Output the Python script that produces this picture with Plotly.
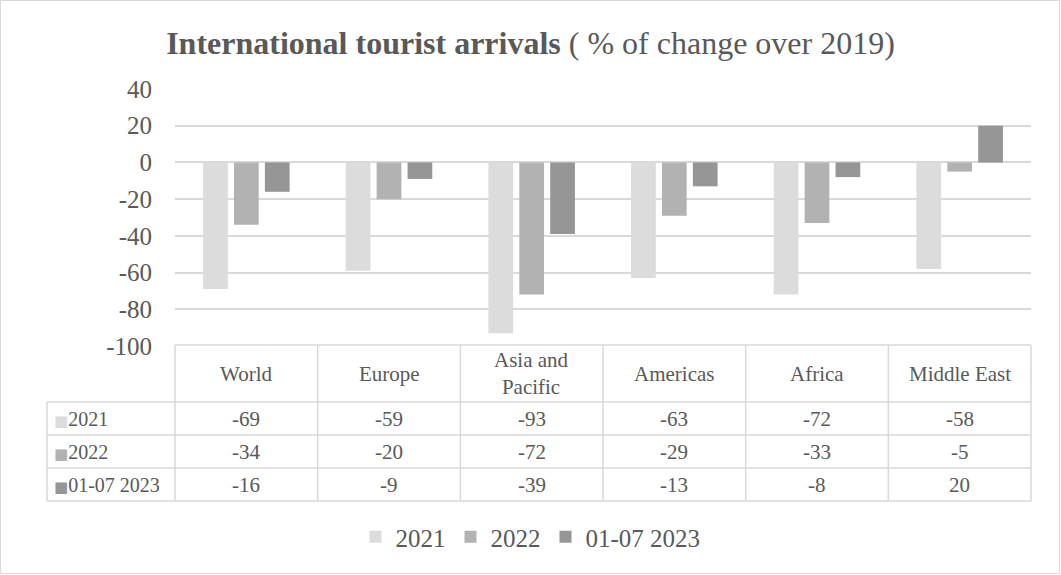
import plotly.graph_objects as go

categories = ["World", "Europe", "Asia and Pacific", "Americas", "Africa", "Middle East"]
cat_labels = ["World", "Europe", "Asia and<br>Pacific", "Americas", "Africa", "Middle East"]
series_names = ["2021", "2022", "01-07 2023"]
v2021 = [-69, -59, -93, -63, -72, -58]
v2022 = [-34, -20, -72, -29, -33, -5]
v2023 = [-16, -9, -39, -13, -8, 20]
series_values = [v2021, v2022, v2023]
colors = ["#dcdcdc", "#b2b2b2", "#969696"]
y_ticks = [40, 20, 0, -20, -40, -60, -80, -100]

W, H = 1061, 575
FONT = "Liberation Serif"
TXT = "#595959"
GRID = "#d9d9d9"

# layout in pixels
plot_l, plot_r = 175, 1031
plot_t, plot_b = 89, 346
tbl_left = 47
tbl_top = 345
hdr_bot = 402
row_h = 33

def px(x):
    return x / W

def py(y):
    return 1 - y / H

fig = go.Figure()
for name, vals, col in zip(series_names, series_values, colors):
    fig.add_trace(go.Bar(x=categories, y=vals, name=name, marker=dict(color=col, line=dict(width=0))))

shapes = []
annotations = []
# outer border
shapes.append(dict(type="rect", xref="paper", yref="paper", x0=px(0.5), x1=px(W - 1.5), y0=py(H - 1.5), y1=py(0.5),
                   line=dict(color=GRID, width=1)))
ncat = len(categories)
cw = (plot_r - plot_l) / ncat
n_rows = len(series_names)
tbl_bot = hdr_bot + n_rows * row_h
# vertical lines
for i in range(ncat + 1):
    xx = plot_l + i * cw
    shapes.append(dict(type="line", xref="paper", yref="paper", x0=px(xx), x1=px(xx), y0=py(tbl_top), y1=py(tbl_bot),
                       line=dict(color=GRID, width=1.5)))
shapes.append(dict(type="line", xref="paper", yref="paper", x0=px(tbl_left), x1=px(tbl_left), y0=py(hdr_bot), y1=py(tbl_bot),
                   line=dict(color=GRID, width=1.5)))
# horizontal lines
shapes.append(dict(type="line", xref="paper", yref="paper", x0=px(plot_l), x1=px(plot_r), y0=py(tbl_top), y1=py(tbl_top),
                   line=dict(color=GRID, width=1.5)))
for r in range(n_rows + 1):
    yy = hdr_bot + r * row_h
    shapes.append(dict(type="line", xref="paper", yref="paper", x0=px(tbl_left), x1=px(plot_r), y0=py(yy), y1=py(yy),
                       line=dict(color=GRID, width=1.5)))

# header labels
for i, lab in enumerate(cat_labels):
    annotations.append(dict(xref="paper", yref="paper", x=px(plot_l + (i + 0.5) * cw), y=py((tbl_top + hdr_bot) / 2),
                            text=lab, showarrow=False, xanchor="center", yanchor="middle",
                            font=dict(family=FONT, size=21, color=TXT)))
# row labels and values
for r, (name, vals, col) in enumerate(zip(series_names, series_values, colors)):
    yc = hdr_bot + (r + 0.5) * row_h
    annotations.append(dict(xref="paper", yref="paper", x=px(tbl_left + 5), y=py(yc),
                            text=f"<span style='color:{col};font-size:15px;font-family:DejaVu Sans'>■</span>{name}",
                            showarrow=False,
                            xanchor="left", yanchor="middle", font=dict(family=FONT, size=20, color=TXT)))
    for i, v in enumerate(vals):
        annotations.append(dict(xref="paper", yref="paper", x=px(plot_l + (i + 0.5) * cw), y=py(yc),
                                text=str(v), showarrow=False, xanchor="center", yanchor="middle",
                                font=dict(family=FONT, size=21, color=TXT)))

fig.update_layout(
    width=W, height=H,
    margin=dict(l=0, r=0, t=0, b=0, autoexpand=False),
    paper_bgcolor="white", plot_bgcolor="white",
    title=dict(text="<b>International tourist arrivals</b> ( % of change over 2019)",
               x=0.5, xanchor="center", y=py(43), yanchor="middle",
               font=dict(family=FONT, size=32, color=TXT)),
    barmode="group", bargap=0.35, bargroupgap=0.2,
    xaxis=dict(domain=[px(plot_l), px(plot_r)], showticklabels=False, showgrid=False, zeroline=False,
               showline=False, ticks="", automargin=False),
    yaxis=dict(domain=[py(plot_b), py(plot_t)], range=[-100, 40], tickvals=y_ticks,
               ticktext=[str(t) for t in y_ticks], showgrid=True, gridcolor=GRID, gridwidth=1.5,
               zeroline=False, showline=False, ticks="", ticklabelstandoff=22, automargin=False,
               tickfont=dict(family=FONT, size=25, color=TXT)),
    legend=dict(orientation="h", x=0.5, xanchor="center", y=py(537), yanchor="middle",
                font=dict(family=FONT, size=25, color=TXT), itemwidth=30, traceorder="normal"),
    shapes=shapes, annotations=annotations,
)

fig.write_html("out.html")
